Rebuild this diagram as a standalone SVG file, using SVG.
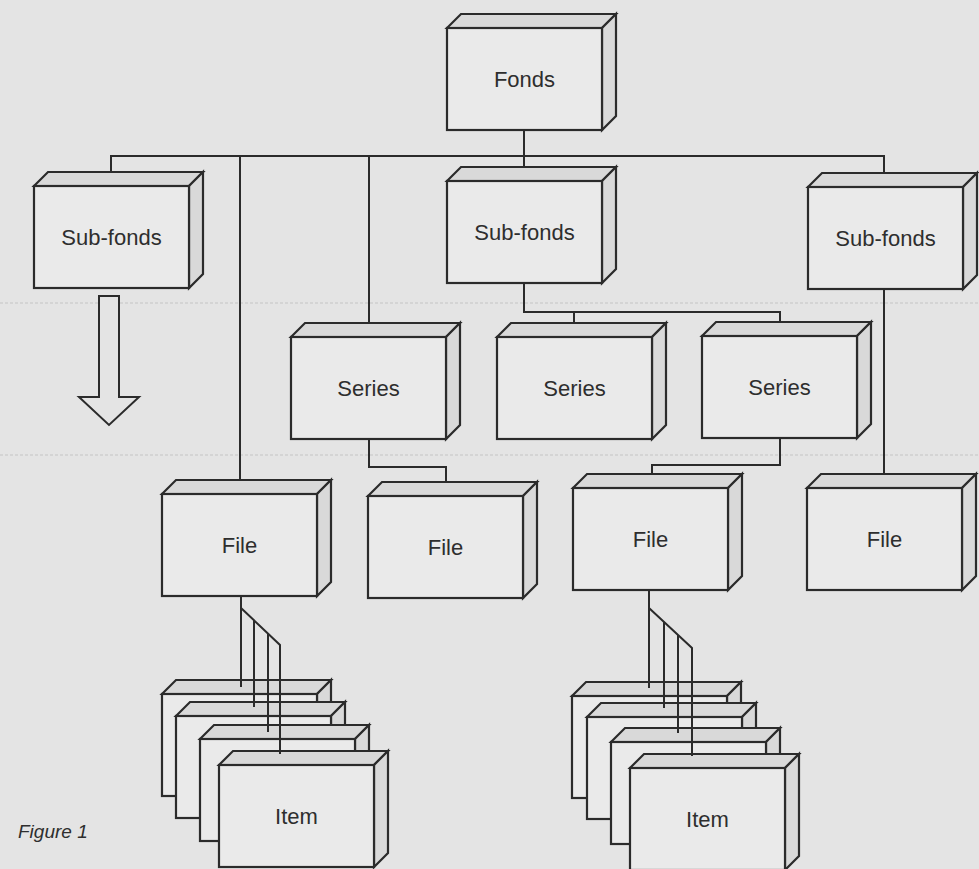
<svg xmlns="http://www.w3.org/2000/svg" xmlns:xlink="http://www.w3.org/1999/xlink" width="979" height="869" viewBox="0 0 979 869">
<style>
.bg{fill:#e4e4e4}
.rule{stroke:#c4c4c4;stroke-width:1.2;stroke-dasharray:3 2;fill:none}
.face{fill:#eaeaea;stroke:#2b2b2b;stroke-width:2.2;stroke-linejoin:miter}
.shade{fill:#d9d9d9;stroke:#2b2b2b;stroke-width:2.2;stroke-linejoin:miter}
.lbl{font-family:"Liberation Sans",Arial,sans-serif;font-size:22px;fill:#2e2e2e;text-anchor:middle}
.cap{font-family:"Liberation Sans",Arial,sans-serif;font-size:19px;font-style:italic;fill:#2e2e2e}
.conn{stroke:#2b2b2b;stroke-width:2;fill:none;stroke-linejoin:miter}
.arrow{fill:#e4e4e4;stroke:#2b2b2b;stroke-width:2;stroke-linejoin:miter}
</style>
<defs>
<g id="box">
<path class="shade" d="M0,0 L14,-14 L169,-14 L155,0 Z"/>
<path class="shade" d="M155,0 L169,-14 L169,88 L155,102 Z"/>
<rect class="face" x="0" y="0" width="155" height="102"/>
</g>
</defs>
<rect class="bg" x="0" y="0" width="979" height="869"/>
<line class="rule" x1="0" y1="303" x2="979" y2="303"/>
<line class="rule" x1="0" y1="455" x2="979" y2="455"/>

<g id="fonds" transform="translate(447,28)"><use xlink:href="#box"/><text class="lbl" x="77.5" y="59">Fonds</text></g>
<g id="subfonds-1" transform="translate(34,186)"><use xlink:href="#box"/><text class="lbl" x="77.5" y="59">Sub-fonds</text></g>
<g id="subfonds-2" transform="translate(447,181)"><use xlink:href="#box"/><text class="lbl" x="77.5" y="59">Sub-fonds</text></g>
<g id="subfonds-3" transform="translate(808,187)"><use xlink:href="#box"/><text class="lbl" x="77.5" y="59">Sub-fonds</text></g>
<g id="series-1" transform="translate(291,337)"><use xlink:href="#box"/><text class="lbl" x="77.5" y="59">Series</text></g>
<g id="series-2" transform="translate(497,337)"><use xlink:href="#box"/><text class="lbl" x="77.5" y="59">Series</text></g>
<g id="series-3" transform="translate(702,336)"><use xlink:href="#box"/><text class="lbl" x="77.5" y="59">Series</text></g>
<g id="file-1" transform="translate(162,494)"><use xlink:href="#box"/><text class="lbl" x="77.5" y="59">File</text></g>
<g id="file-2" transform="translate(368,496)"><use xlink:href="#box"/><text class="lbl" x="77.5" y="59">File</text></g>
<g id="file-3" transform="translate(573,488)"><use xlink:href="#box"/><text class="lbl" x="77.5" y="59">File</text></g>
<g id="file-4" transform="translate(807,488)"><use xlink:href="#box"/><text class="lbl" x="77.5" y="59">File</text></g>

<g id="items-left">
<g id="item-l1" transform="translate(162,694)"><use xlink:href="#box"/></g>
<g id="item-l2" transform="translate(176,716)"><use xlink:href="#box"/></g>
<g id="item-l3" transform="translate(200,739)"><use xlink:href="#box"/></g>
<g id="item-l4" transform="translate(219,765)"><use xlink:href="#box"/><text class="lbl" x="77.5" y="59">Item</text></g>
</g>
<g id="items-right">
<g id="item-r1" transform="translate(572,696)"><use xlink:href="#box"/></g>
<g id="item-r2" transform="translate(587,717)"><use xlink:href="#box"/></g>
<g id="item-r3" transform="translate(611,742)"><use xlink:href="#box"/></g>
<g id="item-r4" transform="translate(630,768)"><use xlink:href="#box"/><text class="lbl" x="77.5" y="59">Item</text></g>
</g>

<g id="arrow"><path class="arrow" d="M99,296 L119,296 L119,397 L139,397 L109,425 L79,397 L99,397 Z"/></g>

<g id="connectors">
<path class="conn" d="M524,130 V156"/>
<path class="conn" d="M111,172 V156 H884 V173"/>
<path class="conn" d="M524,156 V167"/>
<path class="conn" d="M240,156 V480"/>
<path class="conn" d="M369,156 V323"/>
<path class="conn" d="M524,283 V312 H780 V322"/>
<path class="conn" d="M574,312 V323"/>
<path class="conn" d="M884,289 V474"/>
<path class="conn" d="M369,439 V467 H446 V482"/>
<path class="conn" d="M780,438 V465 H652 V474"/>
<path class="conn" d="M241,596 V687"/>
<path class="conn" d="M241,608 L280,645 V754"/>
<path class="conn" d="M254,620 V707"/>
<path class="conn" d="M268,633 V732"/>
<path class="conn" d="M649,590 V688"/>
<path class="conn" d="M649,608 L692,648 V756"/>
<path class="conn" d="M664,622 V708"/>
<path class="conn" d="M678,635 V733"/>
</g>

<text class="cap" x="18" y="838">Figure 1</text>
</svg>
